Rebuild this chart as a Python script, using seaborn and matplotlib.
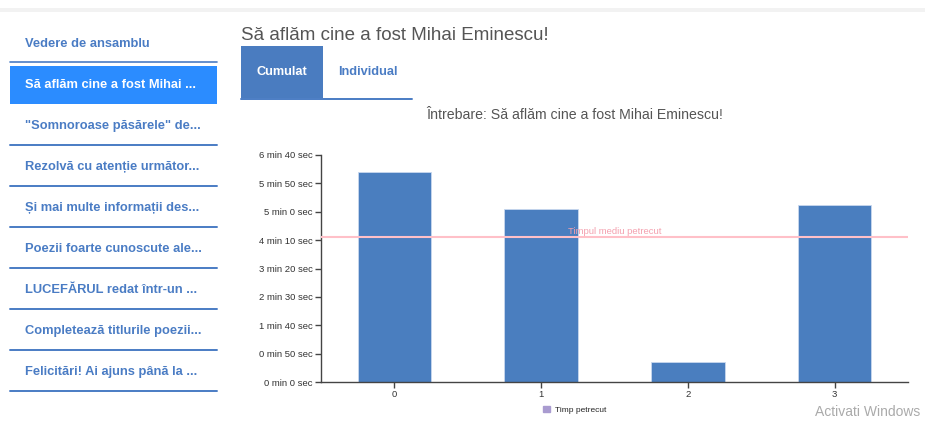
import numpy as np
import pandas as pd
import matplotlib
matplotlib.use("Agg")
import matplotlib.pyplot as plt
from matplotlib.patches import Rectangle, Patch
from matplotlib.lines import Line2D
import seaborn as sns

# data (seconds)
questions = ["0", "1", "2", "3"]
time_spent = [370, 305, 35, 312]
y_ticks = [0, 50, 100, 150, 200, 250, 300, 350, 400]

menu_items = [
    "\"Somnoroase păsărele\" de...",
    "Rezolvă cu atenție următor...",
    "Și mai multe informații des...",
    "Poezii foarte cunoscute ale...",
    "LUCEFĂRUL redat într-un ...",
    "Completează titlurile poezii...",
    "Felicitări! Ai ajuns până la ...",
]

W, H = 925, 421

sns.set_theme(style="white")
plt.rcParams["font.family"] = ["Liberation Sans", "DejaVu Sans"]

fig = plt.figure(figsize=(W / 100, H / 100), dpi=100)
fig.patch.set_facecolor("white")


def fx(x):
    return x / W


def fy(y):
    return 1 - y / H


# top grey strip of the page
fig.add_artist(Rectangle((fx(0), fy(12)), 1, 4 / H, transform=fig.transFigure,
                         color="#f2f2f2", lw=0))

# sidebar
menu_blue = "#4a7cc4"
menu_fs = 9.3
fig.text(fx(25), fy(44), "Vedere de ansamblu", color=menu_blue, fontsize=menu_fs,
         fontweight="bold", va="center")
fig.add_artist(Line2D([fx(10), fx(217)], [fy(62), fy(62)], color=menu_blue, lw=1.2))
fig.add_artist(Rectangle((fx(10), fy(104)), fx(207), 38 / H, transform=fig.transFigure,
                         color="#2b8cff", lw=0))
fig.text(fx(25), fy(85), "Să aflăm cine a fost Mihai ...", color="white", fontsize=menu_fs,
         fontweight="bold", va="center")
for i, item in enumerate(menu_items):
    ty = 126 + i * 41
    fig.text(fx(25), fy(ty), item, color=menu_blue, fontsize=menu_fs,
             fontweight="bold", va="center")
    fig.add_artist(Line2D([fx(10), fx(217)], [fy(ty + 19), fy(ty + 19)],
                          color=menu_blue, lw=1.4))

# page title and tabs
fig.text(fx(241), fy(35), "Să aflăm cine a fost Mihai Eminescu!", color="#555555",
         fontsize=13.5, va="center")
fig.add_artist(Rectangle((fx(241), fy(98)), fx(82), 52 / H, transform=fig.transFigure,
                         color="#4a7cc0", lw=0))
fig.text(fx(282), fy(72), "Cumulat", color="white", fontsize=9.2, fontweight="bold",
         ha="center", va="center")
fig.text(fx(368), fy(72), "Individual", color=menu_blue, fontsize=9.2, fontweight="bold",
         ha="center", va="center")
fig.add_artist(Line2D([fx(241), fx(412)], [fy(98.5), fy(98.5)], color=menu_blue, lw=1.4))

fig.text(fx(575), fy(115), "Întrebare: Să aflăm cine a fost Mihai Eminescu!",
         color="#555555", fontsize=10.2, ha="center", va="center")

# chart
ax = fig.add_axes([fx(321), fy(382), (908 - 321) / W, (382 - 155) / H])
df = pd.DataFrame({"question": questions, "time": time_spent})
sns.barplot(data=df, x="question", y="time", color="#4a7ebf", saturation=1,
            width=0.5, edgecolor="#c9d8ee", linewidth=0.6, ax=ax)
ax.set_xlim(-0.5, len(questions) - 0.5)
ax.set_ylim(0, 400)
ax.set_yticks(y_ticks)
ax.set_yticklabels([f"{t // 60} min {t % 60} sec" for t in y_ticks])
ax.set_xlabel("")
ax.set_ylabel("")
for s in ["top", "right"]:
    ax.spines[s].set_visible(False)
for s in ["left", "bottom"]:
    ax.spines[s].set_color("#444444")
    ax.spines[s].set_linewidth(1)
ax.tick_params(axis="both", length=4, width=1, color="#444444", labelsize=6.8,
               labelcolor="#333333", pad=2, left=True, bottom=True)

avg = np.mean(time_spent)
ax.axhline(avg, color="#ffc0c8", lw=1.5, zorder=3)
ax.text(1.5, avg + 1, "Timpul mediu petrecut", color="#f4a0ae", fontsize=6.8,
        ha="center", va="bottom")

fig.legend(handles=[Patch(color="#a99bd0", label="Timp petrecut")],
           loc="center", bbox_to_anchor=(fx(575), fy(410)), frameon=False,
           fontsize=6, handlelength=0.8, handleheight=0.8, handletextpad=0.6)

fig.text(fx(815), fy(412), "Activati Windows", color="#aaaaaa", fontsize=10,
         va="center")

fig.savefig("out.png", dpi=100, facecolor="white")
